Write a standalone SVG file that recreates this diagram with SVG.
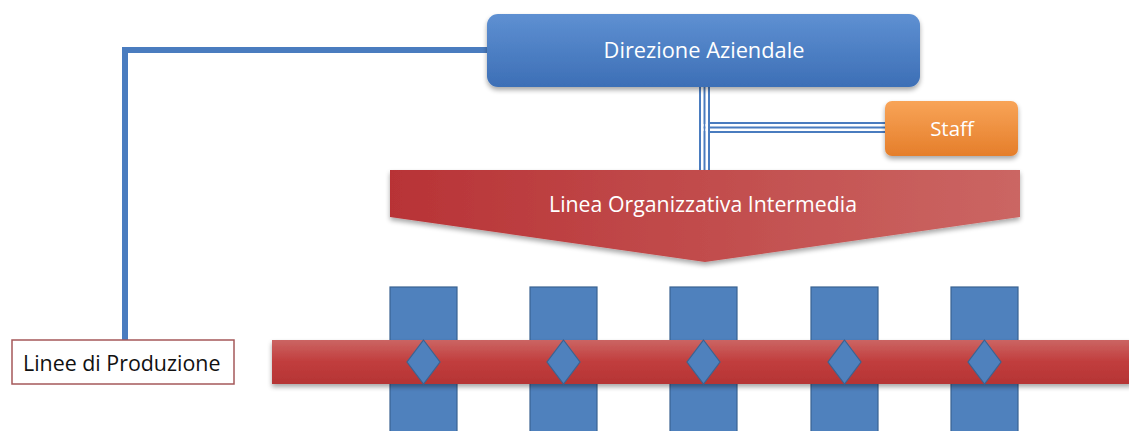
<svg xmlns="http://www.w3.org/2000/svg" width="1129" height="431" viewBox="0 0 1129 431">
<style>
.lbl{font-family:"Open Sans","Liberation Sans",sans-serif;fill:#ffffff;text-anchor:middle}
.col{fill:#4f81bd;stroke:#3a6391;stroke-width:1.2}
.dia{fill:#4f81bd;stroke:#3a6391;stroke-width:1.2}
.conn{fill:none;stroke:#4a7cbf;stroke-width:6}
</style>
<defs>
<linearGradient id="gBlue" x1="0" y1="0" x2="0" y2="1">
<stop offset="0" stop-color="#5e90d2"/><stop offset="1" stop-color="#3d6fb6"/>
</linearGradient>
<linearGradient id="gOrange" x1="0" y1="0" x2="0" y2="1">
<stop offset="0" stop-color="#f8a458"/><stop offset="1" stop-color="#e57e2a"/>
</linearGradient>
<linearGradient id="gArrow" x1="0" y1="0" x2="1" y2="0">
<stop offset="0" stop-color="#b83336"/><stop offset="1" stop-color="#cb6663"/>
</linearGradient>
<linearGradient id="gBar" x1="0" y1="0" x2="0" y2="1">
<stop offset="0" stop-color="#cb6563"/><stop offset="0.5" stop-color="#c13d3d"/><stop offset="1" stop-color="#b53434"/>
</linearGradient>
<filter id="sh" x="-10%" y="-20%" width="120%" height="150%">
<feGaussianBlur in="SourceAlpha" stdDeviation="2.5"/>
<feOffset dx="0" dy="3" result="b"/>
<feComponentTransfer><feFuncA type="linear" slope="0.35"/></feComponentTransfer>
<feMerge><feMergeNode/><feMergeNode in="SourceGraphic"/></feMerge>
</filter>
</defs>
<rect width="1129" height="431" fill="#ffffff"/>

<g id="connectors">
<polyline class="conn" points="490,50 125,50 125,341"/>
<g fill="none" stroke="#4a7cbf" stroke-width="2">
<line x1="700" y1="86" x2="700" y2="172"/>
<line x1="704.5" y1="86" x2="704.5" y2="172"/>
<line x1="709" y1="86" x2="709" y2="172"/>
<line x1="709" y1="123" x2="887" y2="123"/>
<line x1="709" y1="127.5" x2="887" y2="127.5"/>
<line x1="709" y1="132" x2="887" y2="132"/>
</g>
<rect x="701" y="124" width="2.5" height="2.5" fill="#ffffff"/>
<rect x="705.5" y="124" width="2.5" height="2.5" fill="#ffffff"/>
<rect x="701" y="128.5" width="2.5" height="2.5" fill="#ffffff"/>
<rect x="705.5" y="128.5" width="2.5" height="2.5" fill="#ffffff"/>
</g>

<g id="direzione">
<rect x="487" y="14" width="433" height="73" rx="11" fill="url(#gBlue)" filter="url(#sh)"/>
<text class="lbl" x="704" y="58" font-size="21.8">Direzione Aziendale</text>
</g>

<g id="staff">
<rect x="885" y="101" width="133" height="55" rx="7" fill="url(#gOrange)" filter="url(#sh)"/>
<text class="lbl" x="952" y="136" font-size="20.5">Staff</text>
</g>

<g id="linea-intermedia">
<polygon points="390,170 1020,170 1020,217 705,262 390,217" fill="url(#gArrow)" filter="url(#sh)"/>
<text class="lbl" x="703" y="212" font-size="21.3">Linea Organizzativa Intermedia</text>
</g>

<g id="colonne">
<rect class="col" x="390" y="287" width="67" height="150"/>
<rect class="col" x="530" y="287" width="67" height="150"/>
<rect class="col" x="670" y="287" width="67" height="150"/>
<rect class="col" x="811" y="287" width="67" height="150"/>
<rect class="col" x="951" y="287" width="67" height="150"/>
</g>

<g id="linee-bar">
<rect x="272" y="340" width="860" height="44" fill="url(#gBar)" filter="url(#sh)"/>
</g>

<g id="diamanti">
<polygon class="dia" points="423.5,340 440,362 423.5,384 407,362"/>
<polygon class="dia" points="563.5,340 580,362 563.5,384 547,362"/>
<polygon class="dia" points="703.5,340 720,362 703.5,384 687,362"/>
<polygon class="dia" points="844.5,340 861,362 844.5,384 828,362"/>
<polygon class="dia" points="984.5,340 1001,362 984.5,384 968,362"/>
</g>

<g id="linee-produzione">
<rect x="12" y="340" width="222" height="44" fill="#ffffff" stroke="#a5585a" stroke-width="1.5"/>
<text x="23" y="371" font-family="'Open Sans','Liberation Sans',sans-serif" font-size="21.4" fill="#111111">Linee di Produzione</text>
</g>
</svg>
